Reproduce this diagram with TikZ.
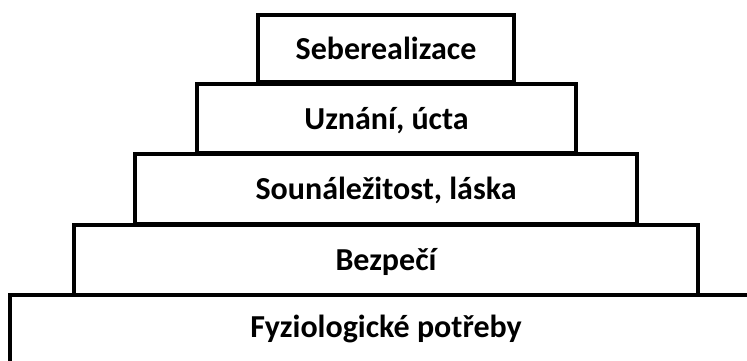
\documentclass[tikz,border=0pt]{standalone}
\usepackage{fontspec}
\setmainfont{Carlito}
\tikzset{
  level/.style={draw=black, line width=4pt, rectangle, fill=white, inner sep=0pt, outer sep=0pt,
    text height=25pt, text depth=4pt,
    font=\fontsize{32}{38}\selectfont\bfseries, text=black}
}
\begin{document}
\begin{tikzpicture}[x=1pt,y=-1pt]
\useasboundingbox (0,0) rectangle (747,360);
\clip (0,0) rectangle (747,360);
\node[level, minimum width=752pt, minimum height=70pt, text height=21pt, text depth=7pt] (fyz) at (386,330) {Fyziologické potřeby};
\node[level, minimum width=624pt, minimum height=70pt] (bez) at (386,260) {Bezpečí};
\node[level, minimum width=502pt, minimum height=70pt] (sou) at (386,189) {Sounáležitost, láska};
\node[level, minimum width=379pt, minimum height=69.5pt] (uzn) at (386.5,118.5) {Uznání, úcta};
\node[level, minimum width=256pt, minimum height=67pt] (seb) at (386,48.5) {Seberealizace};
\end{tikzpicture}
\end{document}
